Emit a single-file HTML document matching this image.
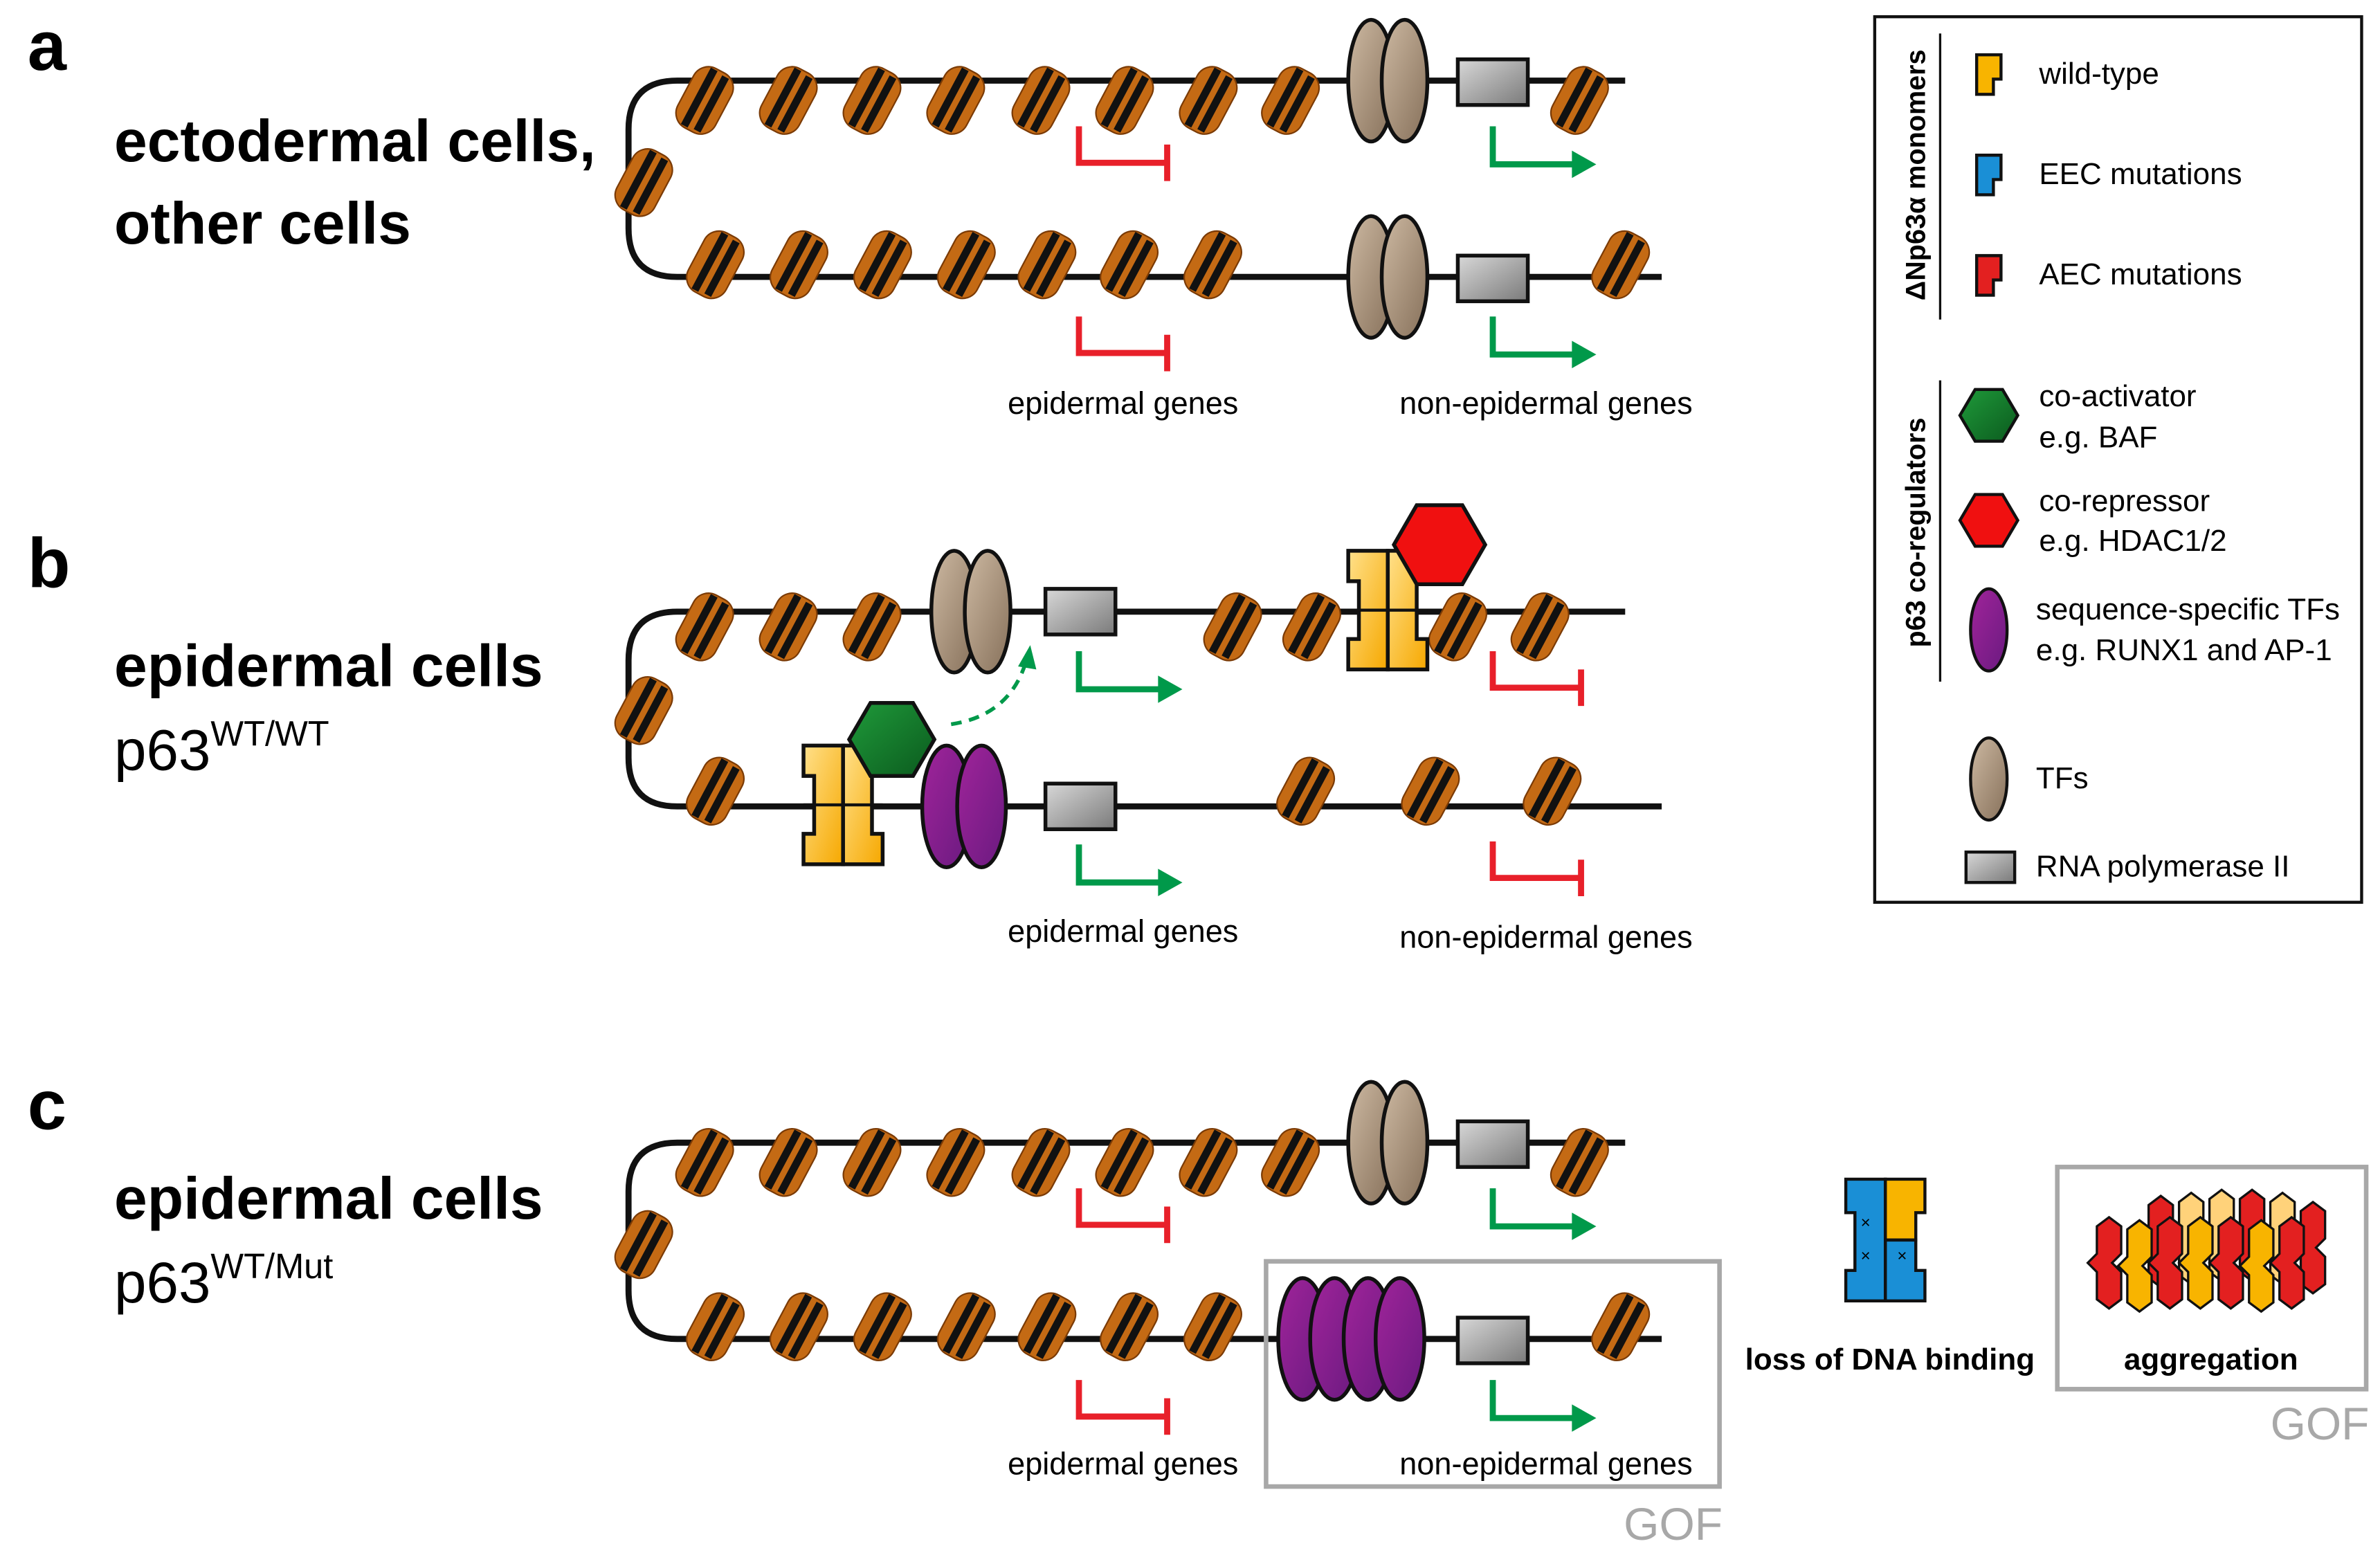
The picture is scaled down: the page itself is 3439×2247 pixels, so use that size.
<!DOCTYPE html>
<html><head><meta charset="utf-8"><style>
html,body{margin:0;padding:0;background:#fff;}
svg{display:block;}
text{font-family:"Liberation Sans",sans-serif;}
</style></head><body>
<svg width="3439" height="2247" viewBox="0 0 1564 1022" xmlns="http://www.w3.org/2000/svg">
<defs>
<linearGradient id="gb" x1="0" y1="0" x2="1" y2="1"><stop offset="0" stop-color="#cdb9a2"/><stop offset="1" stop-color="#86705a"/></linearGradient>
<linearGradient id="gg" x1="0" y1="0" x2="1" y2="1"><stop offset="0" stop-color="#d8d8d8"/><stop offset="1" stop-color="#7a7a7a"/></linearGradient>
<linearGradient id="gp" x1="0" y1="0" x2="1" y2="1"><stop offset="0" stop-color="#a0249a"/><stop offset="1" stop-color="#6a1a80"/></linearGradient>
<linearGradient id="gy" x1="0" y1="0" x2="1" y2="1"><stop offset="0" stop-color="#ffe08a"/><stop offset="1" stop-color="#f6a800"/></linearGradient>
<linearGradient id="gn" x1="0" y1="0" x2="1" y2="1"><stop offset="0" stop-color="#1f9a3a"/><stop offset="1" stop-color="#0b5a1e"/></linearGradient>
<g id="n"><g transform="rotate(28)"><rect x="-14" y="-22" width="28" height="44" rx="11" fill="#c46a14" stroke="#7a3a05" stroke-width="1"/><path d="M-4,-21 V21 M5,-20 V20" stroke="#111" stroke-width="5"/></g></g>
<g id="tf"><ellipse cx="-11" cy="0" rx="15" ry="40" fill="url(#gb)" stroke="#111" stroke-width="2.5"/><ellipse cx="11" cy="0" rx="15" ry="40" fill="url(#gb)" stroke="#111" stroke-width="2.5"/></g>
<g id="pol"><rect x="-23" y="-15" width="46" height="30" fill="url(#gg)" stroke="#111" stroke-width="2.5"/></g>
<g id="red"><path d="M0,0 V24 H58 M58,12 V36" fill="none" stroke="#e8202a" stroke-width="4"/></g>
<g id="grn"><path d="M0,0 V25 H54" fill="none" stroke="#00994a" stroke-width="4"/><path d="M52,16 L68,25 L52,34 Z" fill="#00994a"/></g>
<g id="dim"><path d="M0,0 H26 V78 H0 V58 H7 V20 H0 Z" fill="url(#gy)" stroke="#111" stroke-width="2.5"/><path d="M52,0 H26 V78 H52 V58 H45 V20 H52 Z" fill="url(#gy)" stroke="#111" stroke-width="2.5"/><path d="M0,39 H52" stroke="#111" stroke-width="2"/></g>
<path id="zz" d="M0,0 L8,-6 L16,0 V18 L10,24 L16,30 V48 L8,54 L0,48 V30 L-6,24 L0,18 Z" stroke="#111" stroke-width="1.5"/>
</defs>

<text x="18" y="46" font-size="46" font-weight="bold">a</text>
<text x="18" y="386" font-size="46" font-weight="bold">b</text>
<text x="18" y="742" font-size="46" font-weight="bold">c</text>
<text x="75" y="106" font-size="39" font-weight="bold">ectodermal cells,</text>
<text x="75" y="160" font-size="39" font-weight="bold">other cells</text>
<text x="75" y="451" font-size="39" font-weight="bold">epidermal cells</text>
<text x="75" y="506" font-size="38">p63<tspan font-size="23" dy="-16">WT/WT</tspan></text>
<text x="75" y="801" font-size="39" font-weight="bold">epidermal cells</text>
<text x="75" y="856" font-size="38">p63<tspan font-size="23" dy="-16">WT/Mut</tspan></text>

<!-- Panel A -->
<path d="M1068,53 H445 Q413,53 413,85 V150 Q413,182 445,182 H1092" fill="none" stroke="#111" stroke-width="4"/>
<use href="#n" x="463" y="66"/><use href="#n" x="518" y="66"/><use href="#n" x="573" y="66"/><use href="#n" x="628" y="66"/><use href="#n" x="684" y="66"/><use href="#n" x="739" y="66"/><use href="#n" x="794" y="66"/><use href="#n" x="848" y="66"/><use href="#n" x="1038" y="66"/>
<use href="#n" x="423" y="120"/>
<use href="#n" x="470" y="174"/><use href="#n" x="525" y="174"/><use href="#n" x="580" y="174"/><use href="#n" x="635" y="174"/><use href="#n" x="688" y="174"/><use href="#n" x="742" y="174"/><use href="#n" x="797" y="174"/><use href="#n" x="1065" y="174"/>
<use href="#tf" x="912" y="53"/><use href="#pol" x="981" y="54"/>
<use href="#tf" x="912" y="182"/><use href="#pol" x="981" y="183"/>
<use href="#red" x="709" y="83"/><use href="#grn" x="981" y="83"/>
<use href="#red" x="709" y="208"/><use href="#grn" x="981" y="208"/>
<text x="738" y="272" font-size="20.5" text-anchor="middle">epidermal genes</text>
<text x="1016" y="272" font-size="20.5" text-anchor="middle">non-epidermal genes</text>

<!-- Panel B -->
<path d="M1068,402 H445 Q413,402 413,434 V498 Q413,530 445,530 H1092" fill="none" stroke="#111" stroke-width="4"/>
<use href="#n" x="463" y="412"/><use href="#n" x="518" y="412"/><use href="#n" x="573" y="412"/>
<use href="#n" x="810" y="412"/><use href="#n" x="862" y="412"/><use href="#n" x="958" y="412"/><use href="#n" x="1012" y="412"/>
<use href="#n" x="423" y="467"/>
<use href="#n" x="470" y="520"/><use href="#n" x="858" y="520"/><use href="#n" x="940" y="520"/><use href="#n" x="1020" y="520"/>
<use href="#tf" x="638" y="402"/><use href="#pol" x="710" y="402"/>
<use href="#dim" x="886" y="362"/>
<polygon points="916,358 931,332 961,332 976,358 961,384 931,384" fill="#f01010" stroke="#111" stroke-width="2.5"/>
<use href="#dim" x="528" y="490"/>
<polygon points="558,486 572,462 600,462 614,486 600,510 572,510" fill="url(#gn)" stroke="#111" stroke-width="2.5"/>
<ellipse cx="622" cy="530" rx="16" ry="40" fill="url(#gp)" stroke="#111" stroke-width="2.5"/>
<ellipse cx="645" cy="530" rx="16" ry="40" fill="url(#gp)" stroke="#111" stroke-width="2.5"/>
<use href="#pol" x="710" y="530"/>
<path d="M625,476 Q665,470 675,432" fill="none" stroke="#00994a" stroke-width="2.5" stroke-dasharray="7,5"/>
<path d="M669,438 L677,424 L681,440 Z" fill="#00994a"/>
<use href="#grn" x="709" y="428"/><use href="#red" x="981" y="428"/>
<use href="#grn" x="709" y="555"/><use href="#red" x="981" y="553"/>
<text x="738" y="619" font-size="20.5" text-anchor="middle">epidermal genes</text>
<text x="1016" y="623" font-size="20.5" text-anchor="middle">non-epidermal genes</text>

<!-- Panel C -->
<path d="M1068,751 H445 Q413,751 413,783 V848 Q413,880 445,880 H1092" fill="none" stroke="#111" stroke-width="4"/>
<use href="#n" x="463" y="764"/><use href="#n" x="518" y="764"/><use href="#n" x="573" y="764"/><use href="#n" x="628" y="764"/><use href="#n" x="684" y="764"/><use href="#n" x="739" y="764"/><use href="#n" x="794" y="764"/><use href="#n" x="848" y="764"/><use href="#n" x="1038" y="764"/>
<use href="#n" x="423" y="818"/>
<use href="#n" x="470" y="872"/><use href="#n" x="525" y="872"/><use href="#n" x="580" y="872"/><use href="#n" x="635" y="872"/><use href="#n" x="688" y="872"/><use href="#n" x="742" y="872"/><use href="#n" x="797" y="872"/><use href="#n" x="1065" y="872"/>
<use href="#tf" x="912" y="751"/><use href="#pol" x="981" y="752"/>
<ellipse cx="856" cy="880" rx="16" ry="40" fill="url(#gp)" stroke="#111" stroke-width="2.5"/>
<ellipse cx="877" cy="880" rx="16" ry="40" fill="url(#gp)" stroke="#111" stroke-width="2.5"/>
<ellipse cx="899" cy="880" rx="16" ry="40" fill="url(#gp)" stroke="#111" stroke-width="2.5"/>
<ellipse cx="920" cy="880" rx="16" ry="40" fill="url(#gp)" stroke="#111" stroke-width="2.5"/>
<use href="#pol" x="981" y="881"/>
<use href="#red" x="709" y="781"/><use href="#grn" x="981" y="781"/>
<use href="#red" x="709" y="907"/><use href="#grn" x="981" y="907"/>
<text x="738" y="969" font-size="20.5" text-anchor="middle">epidermal genes</text>
<text x="1016" y="969" font-size="20.5" text-anchor="middle">non-epidermal genes</text>
<rect x="832" y="829" width="298" height="148" fill="none" stroke="#a8a8a8" stroke-width="3"/>
<text x="1132" y="1012" font-size="30" fill="#a8a8a8" text-anchor="end">GOF</text>

<g transform="translate(1213,775)">
<path d="M0,0 H26 V80 H0 V60 H6 V22 H0 Z" fill="#1a8fd6" stroke="#111" stroke-width="2"/>
<path d="M52,0 H26 V40 H46 V22 H52 Z" fill="#f8b400" stroke="#111" stroke-width="2"/>
<path d="M26,40 H46 V60 H52 V80 H26 Z" fill="#1a8fd6" stroke="#111" stroke-width="2"/>
<text x="13" y="32" font-size="11" text-anchor="middle">×</text><text x="13" y="54" font-size="11" text-anchor="middle">×</text><text x="37" y="54" font-size="11" text-anchor="middle">×</text>
</g>
<text x="1242" y="900" font-size="20" font-weight="bold" text-anchor="middle">loss of DNA binding</text>

<rect x="1352" y="767" width="203" height="146" fill="none" stroke="#a8a8a8" stroke-width="3"/>
<use href="#zz" x="1412" y="792" fill="#e32020"/>
<use href="#zz" x="1432" y="790" fill="#ffd27a"/>
<use href="#zz" x="1452" y="788" fill="#ffd27a"/>
<use href="#zz" x="1472" y="788" fill="#e32020"/>
<use href="#zz" x="1492" y="790" fill="#ffd27a"/>
<use href="#zz" x="1512" y="796" fill="#e32020"/>
<use href="#zz" x="1378" y="806" fill="#e32020"/>
<use href="#zz" x="1398" y="808" fill="#f8b400"/>
<use href="#zz" x="1418" y="806" fill="#e32020"/>
<use href="#zz" x="1438" y="806" fill="#f8b400"/>
<use href="#zz" x="1458" y="806" fill="#e32020"/>
<use href="#zz" x="1478" y="808" fill="#f8b400"/>
<use href="#zz" x="1498" y="806" fill="#e32020"/>
<text x="1453" y="900" font-size="20" font-weight="bold" text-anchor="middle">aggregation</text>
<text x="1557" y="946" font-size="30" fill="#a8a8a8" text-anchor="end">GOF</text>

<rect x="1232" y="11" width="320" height="582" fill="none" stroke="#111" stroke-width="2"/>
<text transform="translate(1265,115) rotate(-90)" font-size="18" font-weight="bold" text-anchor="middle">ΔNp63α monomers</text>
<line x1="1275" y1="22" x2="1275" y2="210" stroke="#111" stroke-width="1.5"/>
<text transform="translate(1265,350) rotate(-90)" font-size="18" font-weight="bold" text-anchor="middle">p63 co-regulators</text>
<line x1="1275" y1="250" x2="1275" y2="448" stroke="#111" stroke-width="1.5"/>
<path d="M1299,36 H1315 V52 H1310 V62 H1299 Z" fill="#f8b400" stroke="#111" stroke-width="2"/>
<path d="M1299,102 H1315 V118 H1310 V128 H1299 Z" fill="#1a8fd6" stroke="#111" stroke-width="2"/>
<path d="M1299,168 H1315 V184 H1310 V194 H1299 Z" fill="#e32020" stroke="#111" stroke-width="2"/>
<text x="1340" y="55" font-size="20">wild-type</text>
<text x="1340" y="121" font-size="20">EEC mutations</text>
<text x="1340" y="187" font-size="20">AEC mutations</text>
<polygon points="1288,273 1298,256 1316,256 1326,273 1316,290 1298,290" fill="url(#gn)" stroke="#111" stroke-width="2"/>
<text x="1340" y="267" font-size="20">co-activator</text>
<text x="1340" y="294" font-size="20">e.g. BAF</text>
<polygon points="1288,342 1298,325 1316,325 1326,342 1316,359 1298,359" fill="#f01010" stroke="#111" stroke-width="2"/>
<text x="1340" y="336" font-size="20">co-repressor</text>
<text x="1340" y="362" font-size="20">e.g. HDAC1/2</text>
<ellipse cx="1307" cy="414" rx="12" ry="27" fill="url(#gp)" stroke="#111" stroke-width="2"/>
<text x="1338" y="407" font-size="20">sequence-specific TFs</text>
<text x="1338" y="434" font-size="20">e.g. RUNX1 and AP-1</text>
<ellipse cx="1307" cy="512" rx="12" ry="27" fill="url(#gb)" stroke="#111" stroke-width="2"/>
<text x="1338" y="518" font-size="20">TFs</text>
<rect x="1292" y="560" width="32" height="20" fill="url(#gg)" stroke="#111" stroke-width="2"/>
<text x="1338" y="576" font-size="20">RNA polymerase II</text>
</svg>
</body></html>
